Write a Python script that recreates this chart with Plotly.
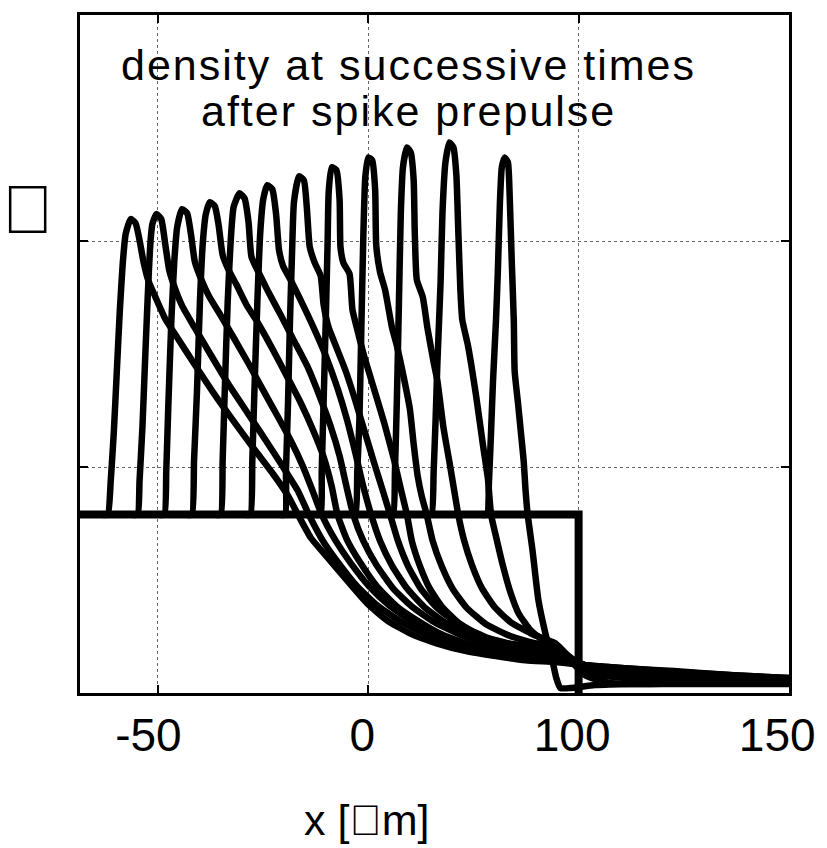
import plotly.graph_objects as go

# ---- data (x in axis units, y in axis units) ----
curve_01 = [(-126.1,0.789),(-123.8,0.789),(-122.4,0.938),(-120.9,1.159),(-119.5,1.423),(-118.1,1.687),(-116.7,1.899),(-115.3,2.031),(-112.9,2.097),(-110.6,2.079),(-108.7,2.004),(-106.8,1.907),(-104.5,1.824),(-101.2,1.753),(-96.5,1.656),(-90.8,1.573),(-82.8,1.458),(-73.4,1.326),(-64.0,1.203),(-54.6,1.084),(-45.2,0.969),(-38.1,0.872),(-33.4,0.789),(-27.3,0.687),(-19.3,0.599),(-11.3,0.511),(-0.5,0.396),(8.9,0.322),(19.8,0.264),(32.5,0.220),(46.6,0.185),(60.7,0.163),(74.8,0.145),(88.9,0.137),(103.1,0.123),(121.9,0.110),(145.4,0.097),(173.6,0.079),(200.0,0.066)]
curve_02 = [(-112.0,0.789),(-109.6,0.789),(-108.7,0.938),(-107.3,1.181),(-105.9,1.511),(-104.5,1.819),(-103.5,1.996),(-102.6,2.075),(-100.7,2.119),(-98.4,2.097),(-96.5,1.987),(-94.6,1.872),(-91.8,1.789),(-88.5,1.714),(-82.8,1.621),(-75.8,1.511),(-66.4,1.366),(-56.9,1.233),(-47.5,1.101),(-40.5,1.000),(-33.4,0.894),(-28.2,0.789),(-21.6,0.674),(-14.6,0.581),(-5.2,0.471),(4.2,0.388),(16.0,0.313),(27.8,0.260),(41.9,0.216),(56.0,0.185),(70.1,0.163),(88.9,0.145),(103.1,0.123),(121.9,0.110),(145.4,0.093),(173.6,0.079),(200.0,0.066)]
curve_03 = [(-99.3,0.789),(-96.9,0.789),(-96.0,0.982),(-95.1,1.247),(-93.6,1.643),(-92.2,1.907),(-90.8,2.062),(-88.5,2.141),(-86.1,2.123),(-84.2,2.026),(-82.4,1.907),(-79.5,1.833),(-75.8,1.758),(-70.1,1.670),(-64.0,1.573),(-56.9,1.458),(-49.9,1.339),(-42.8,1.220),(-36.7,1.115),(-31.1,1.004),(-26.4,0.894),(-22.1,0.789),(-15.5,0.674),(-8.5,0.577),(0.5,0.471),(9.9,0.388),(20.7,0.317),(33.4,0.260),(47.5,0.216),(61.6,0.185),(74.8,0.167),(88.9,0.154),(103.1,0.123),(121.9,0.106),(145.4,0.093),(173.6,0.075),(200.0,0.062)]
curve_04 = [(-86.1,0.789),(-83.8,0.789),(-82.8,1.026),(-81.4,1.335),(-80.0,1.731),(-78.6,1.996),(-77.2,2.119),(-75.3,2.172),(-72.9,2.154),(-71.1,2.070),(-69.2,1.938),(-66.4,1.872),(-62.6,1.806),(-57.9,1.718),(-52.2,1.634),(-45.6,1.524),(-38.1,1.392),(-32.0,1.282),(-26.4,1.167),(-21.2,1.044),(-17.4,0.916),(-14.6,0.789),(-9.9,0.674),(-3.8,0.577),(4.2,0.471),(13.6,0.383),(23.1,0.322),(34.8,0.260),(48.9,0.211),(63.1,0.181),(77.2,0.163),(88.9,0.159),(103.1,0.123),(121.9,0.106),(145.4,0.088),(173.6,0.075),(200.0,0.062)]
curve_05 = [(-72.5,0.789),(-70.1,0.789),(-69.2,1.026),(-68.2,1.335),(-66.8,1.731),(-65.4,1.996),(-64.0,2.150),(-61.2,2.211),(-58.8,2.189),(-56.9,2.084),(-55.5,1.930),(-52.2,1.863),(-47.5,1.775),(-41.9,1.678),(-35.8,1.568),(-28.7,1.441),(-23.1,1.313),(-17.9,1.181),(-13.6,1.048),(-10.4,0.916),(-7.1,0.789),(-2.4,0.674),(3.8,0.568),(11.8,0.463),(20.7,0.383),(31.5,0.313),(44.2,0.256),(58.4,0.216),(72.5,0.189),(88.9,0.172),(103.1,0.123),(121.9,0.106),(145.4,0.088),(173.6,0.070),(200.0,0.057)]
curve_06 = [(-58.4,0.789),(-56.0,0.789),(-55.1,1.026),(-54.1,1.335),(-52.7,1.731),(-51.3,2.040),(-49.9,2.185),(-48.0,2.247),(-45.6,2.229),(-43.8,2.119),(-42.4,1.960),(-40.5,1.890),(-36.7,1.824),(-32.0,1.736),(-26.4,1.626),(-20.2,1.493),(-14.6,1.348),(-9.9,1.203),(-6.1,1.062),(-2.4,0.916),(1.4,0.789),(5.6,0.674),(11.3,0.564),(18.4,0.463),(26.8,0.379),(37.2,0.308),(50.4,0.251),(64.5,0.211),(77.2,0.189),(88.9,0.181),(103.1,0.123),(121.9,0.101),(145.4,0.084),(173.6,0.070),(200.0,0.057)]
curve_07 = [(-41.9,0.789),(-39.5,0.789),(-39.1,0.982),(-38.1,1.291),(-37.2,1.643),(-36.2,1.952),(-35.3,2.172),(-32.9,2.286),(-30.6,2.269),(-29.2,2.150),(-27.8,1.974),(-25.4,1.903),(-22.6,1.846),(-21.2,1.718),(-18.8,1.617),(-15.1,1.529),(-10.8,1.427),(-6.6,1.308),(-1.9,1.163),(2.8,1.018),(7.1,0.890),(10.4,0.789),(14.1,0.674),(18.8,0.564),(24.9,0.463),(32.5,0.379),(42.8,0.304),(56.0,0.247),(70.1,0.211),(88.9,0.189),(103.1,0.119),(121.9,0.101),(145.4,0.084),(173.6,0.066),(200.0,0.053)]
curve_08 = [(-24.9,0.789),(-22.6,0.789),(-22.1,0.982),(-21.2,1.291),(-20.2,1.643),(-19.3,1.996),(-18.8,2.216),(-17.4,2.326),(-15.1,2.313),(-13.6,2.181),(-13.2,1.974),(-11.8,1.903),(-8.9,1.855),(-7.5,1.696),(-5.2,1.608),(-1.9,1.489),(2.8,1.344),(7.5,1.198),(12.2,1.035),(15.5,0.903),(18.4,0.789),(20.7,0.674),(24.5,0.564),(29.2,0.463),(35.3,0.379),(43.3,0.308),(53.6,0.251),(65.4,0.220),(77.2,0.207),(88.9,0.198),(103.1,0.115),(121.9,0.093),(145.4,0.075),(173.6,0.062),(200.0,0.053)]
curve_09 = [(-8.5,0.789),(-6.1,0.789),(-5.2,0.982),(-4.2,1.203),(-3.3,1.599),(-2.4,1.996),(-1.4,2.282),(0.0,2.370),(1.9,2.357),(3.3,2.225),(3.8,1.982),(5.6,1.863),(8.0,1.784),(11.3,1.617),(13.6,1.537),(16.9,1.396),(19.8,1.256),(21.6,1.101),(23.5,0.960),(25.4,0.872),(27.8,0.789),(30.6,0.674),(34.8,0.564),(40.0,0.463),(46.6,0.379),(56.0,0.304),(67.8,0.251),(79.5,0.220),(88.9,0.207),(103.1,0.110),(121.9,0.084),(145.4,0.066),(173.6,0.057),(200.0,0.048)]
curve_10 = [(9.4,0.789),(11.8,0.789),(12.7,0.982),(13.6,1.291),(14.6,1.731),(15.5,2.128),(16.5,2.326),(18.4,2.414),(20.2,2.392),(21.6,2.269),(22.1,2.048),(23.1,1.828),(25.9,1.753),(28.2,1.612),(31.1,1.463),(32.9,1.379),(35.8,1.172),(38.6,1.022),(40.9,0.894),(42.8,0.789),(45.6,0.674),(49.4,0.564),(54.1,0.463),(60.2,0.379),(67.8,0.313),(78.1,0.260),(88.9,0.220),(103.1,0.093),(121.9,0.066),(145.4,0.053),(173.6,0.048),(200.0,0.048)]
curve_11 = [(27.8,0.789),(30.1,0.789),(31.1,0.982),(32.0,1.203),(32.9,1.467),(34.4,1.819),(35.3,2.128),(36.7,2.348),(38.6,2.436),(40.5,2.414),(41.9,2.291),(42.8,2.048),(43.8,1.784),(44.7,1.652),(47.5,1.533),(51.3,1.313),(54.6,1.093),(56.9,0.947),(58.4,0.789),(61.2,0.674),(64.0,0.564),(67.3,0.454),(71.5,0.352),(77.2,0.278),(84.2,0.225),(91.3,0.189),(103.1,0.079),(114.8,0.044),(131.3,0.040),(154.8,0.044),(200.0,0.044)]
curve_12 = [(54.1,0.789),(56.5,0.789),(57.4,0.938),(58.4,1.159),(59.3,1.379),(60.7,1.643),(61.6,1.863),(62.6,2.172),(63.5,2.326),(64.9,2.370),(66.4,2.348),(67.3,2.181),(68.2,1.916),(69.2,1.643),(69.6,1.423),(71.1,1.291),(72.5,1.159),(73.9,1.026),(74.8,0.894),(75.8,0.789),(78.1,0.630),(80.9,0.410),(84.2,0.264),(87.5,0.145),(89.4,0.066),(91.3,0.022),(96.0,0.022),(107.8,0.035),(126.6,0.040),(154.8,0.040),(200.0,0.040)]

step_x = [-140, 100, 100]
step_y = [0.79, 0.79, 0.0]

grid_x = [-100, 0, 100]
grid_y = [1, 2]
tick_label_pos = [-104.5, -2.8, 96.9, 194.4]
tick_labels = ["-50", "0", "100", "150"]

title_line1 = "density at successive times"
title_line2 = "after spike prepulse"
x_title = "x [\uf06dm]"
y_title = "\uf072"

curves = [curve_01, curve_02, curve_03, curve_04, curve_05, curve_06,
          curve_07, curve_08, curve_09, curve_10, curve_11, curve_12]

FONT = "Liberation Sans, Arial, Helvetica, sans-serif"

fig = go.Figure()
fig.add_trace(go.Scatter(x=step_x, y=step_y, mode="lines",
                         line=dict(color="black", width=8), hoverinfo="skip"))
for c in curves:
    xs = [p[0] for p in c]
    ys = [p[1] for p in c]
    fig.add_trace(go.Scatter(x=xs, y=ys, mode="lines",
                             line=dict(color="black", width=6.5, shape="spline", smoothing=0.5),
                             hoverinfo="skip"))

fig.update_layout(
    width=827, height=848,
    margin=dict(l=80, r=31, t=12, b=155),
    paper_bgcolor="white", plot_bgcolor="white",
    showlegend=False,
    font=dict(family=FONT, color="black"),
)
fig.update_xaxes(
    range=[-137, 200], showline=True, linewidth=3, linecolor="black", mirror="ticks",
    tickmode="array", tickvals=tick_label_pos, ticktext=tick_labels, ticks="",
    showgrid=False, zeroline=False, tickfont=dict(size=46, family=FONT, color="black"),
    minor=dict(tickmode="array", tickvals=grid_x, ticks="inside", ticklen=8, tickwidth=2,
               tickcolor="black", showgrid=True, gridcolor="#666666", griddash="dot", gridwidth=1),
)
fig.update_yaxes(
    range=[0, 3], showline=True, linewidth=3, linecolor="black", mirror="ticks",
    tickmode="array", tickvals=grid_y, showticklabels=False,
    ticks="inside", ticklen=8, tickwidth=2, tickcolor="black",
    showgrid=True, gridcolor="#666666", griddash="dot", gridwidth=1, zeroline=False,
)

fig.add_annotation(text='<span style="letter-spacing:2px">' + title_line1 + '</span>',
                   xref="paper", yref="paper", x=0.4637, y=0.9266, xanchor="center", yanchor="middle",
                   showarrow=False, font=dict(size=43, family=FONT, color="black"))
fig.add_annotation(text='<span style="letter-spacing:2px">' + title_line2 + '</span>',
                   xref="paper", yref="paper", x=0.4637, y=0.859, xanchor="center", yanchor="middle",
                   showarrow=False, font=dict(size=43, family=FONT, color="black"))
fig.add_annotation(text=x_title, xref="paper", yref="paper", x=0.4036, y=-0.187,
                   xanchor="center", yanchor="middle", showarrow=False,
                   font=dict(size=43, family=FONT, color="black"))
fig.add_annotation(text=y_title, xref="paper", yref="paper", x=-0.074, y=0.7137,
                   xanchor="center", yanchor="middle", showarrow=False,
                   font=dict(size=68, family=FONT, color="black"))

fig.write_html("out.html")
